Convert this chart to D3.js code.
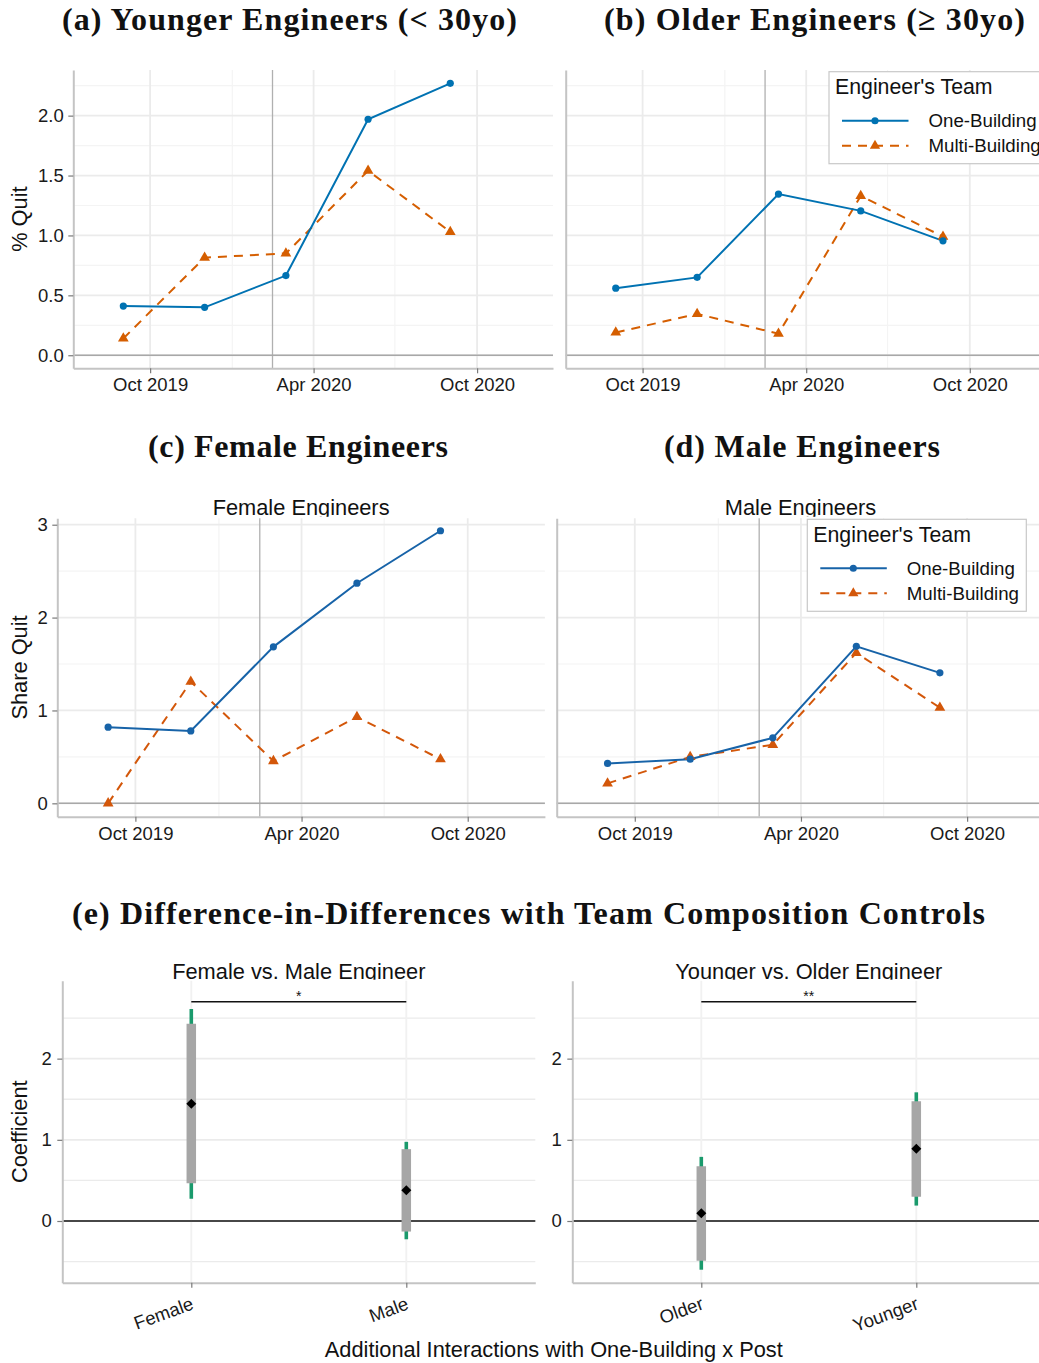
<!DOCTYPE html>
<html>
<head>
<meta charset="utf-8">
<script src="https://cdn.jsdelivr.net/npm/d3@7"></script>
<style>
  body { margin: 0; background: #fff; }
  svg { display: block; }
  text { font-family: "Liberation Sans", Arial, sans-serif; }
</style>
</head>
<body>
<svg id="chart" width="1039" height="1363"></svg>
<script>
// ---- data ----
var quarterDates = ["2019-09-01", "2019-12-01", "2020-03-01", "2020-06-01", "2020-09-01"];
var seriesNames = ["One-Building", "Multi-Building"];

var youngOne   = [0.41, 0.40, 0.665, 1.97, 2.27];
var youngMulti = [0.14, 0.815, 0.85, 1.54, 1.03];
var oldOne     = [0.56, 0.65, 1.345, 1.205, 0.955];
var oldMulti   = [0.19, 0.345, 0.18, 1.33, 0.99];

var femaleOne   = [0.82, 0.78, 1.685, 2.37, 2.935];
var femaleMulti = [0.0, 1.31, 0.455, 0.93, 0.475];
var maleOne     = [0.43, 0.475, 0.705, 1.69, 1.405];
var maleMulti   = [0.215, 0.50, 0.63, 1.62, 1.03];

var xTickDates  = ["2019-10-01", "2020-04-01", "2020-10-01"];
var xMinorDates = ["2020-01-01", "2020-07-01"];
var xDomainDates = ["2019-07-07", "2020-12-25"];
var policyDate = "2020-02-15";

var quitTicks = [0, 0.5, 1, 1.5, 2];
var quitMinor = [0.25, 0.75, 1.25, 1.75, 2.25];
var shareTicks = [0, 1, 2, 3];
var shareMinor = [0.5, 1.5, 2.5];

// coefficient plots (estimate, inner interval, outer interval)
var genderCats  = ["Female", "Male"];
var genderEst   = [1.445, 0.38];
var genderLoIn  = [0.465, -0.13];
var genderHiIn  = [2.43, 0.885];
var genderLoOut = [0.275, -0.225];
var genderHiOut = [2.61, 0.975];
var genderStars = "*";

var ageCats  = ["Older", "Younger"];
var ageEst   = [0.095, 0.89];
var ageLoIn  = [-0.49, 0.30];
var ageHiIn  = [0.675, 1.475];
var ageLoOut = [-0.60, 0.19];
var ageHiOut = [0.79, 1.585];
var ageStars = "**";

var coefTicks = [0, 1, 2];
var coefMinor = [-0.5, 0.5, 1.5, 2.5];
var sigBarLevel = 2.70;

var parse = d3.utcParse("%Y-%m-%d");
var svg = d3.select("#chart");

var gridMajor = "#ebebeb", gridMinor = "#f4f4f4", axisCol = "#c4c4c4", tickCol = "#7a7a7a";

// big serif figure captions
function caption(txt, cx, y, len) {
  svg.append("text")
    .attr("x", cx).attr("y", y)
    .attr("text-anchor", "middle")
    .style("font-family", "'Liberation Serif', 'Times New Roman', serif")
    .attr("font-weight", "bold")
    .attr("font-size", 32)
    .attr("textLength", len)
    .attr("lengthAdjust", "spacing")
    .attr("fill", "#111")
    .text(txt);
}

caption("(a) Younger Engineers (< 30yo)", 289.5, 30, 455);
caption("(b) Older Engineers (\u2265 30yo)", 814.5, 30, 421);
caption("(c) Female Engineers", 298, 456.5, 300);
caption("(d) Male Engineers", 802, 456.5, 276);
caption("(e) Difference-in-Differences with Team Composition Controls", 528.5, 923.5, 913);

function drawLegend(g, lx, ly, cBlue, cOrange) {
  var lg = g.append("g").attr("transform", "translate(" + lx + "," + ly + ")");
  lg.append("rect").attr("width", 219).attr("height", 92)
    .attr("fill", "#fff").attr("stroke", "#c8c8c8").attr("stroke-width", 1.2);
  lg.append("text").attr("x", 6).attr("y", 22.6).attr("font-size", 21.3).attr("fill", "#111")
    .text("Engineer's Team");
  var keys = lg.selectAll(".key").data(seriesNames).enter().append("g")
    .attr("transform", function(d, i) { return "translate(0," + (49 + i * 25) + ")"; });
  keys.append("line").attr("x1", 13).attr("x2", 79.5).attr("y1", 0).attr("y2", 0)
    .attr("stroke", function(d, i) { return i ? cOrange : cBlue; })
    .attr("stroke-width", 2)
    .attr("stroke-dasharray", function(d, i) { return i ? "9,7" : null; });
  keys.append("path")
    .attr("transform", "translate(46,0)")
    .attr("d", function(d, i) { return i ? d3.symbol(d3.symbolTriangle, 46)() : d3.symbol(d3.symbolCircle, 40)(); })
    .attr("fill", function(d, i) { return i ? cOrange : cBlue; });
  keys.append("text").attr("x", 99.5).attr("y", 0).attr("dy", "0.36em")
    .attr("font-size", 18.7).attr("fill", "#111").text(function(d) { return d; });
}

function timePanel(p) {
  var x = d3.scaleUtc().domain(xDomainDates.map(parse)).range([p.left, p.right]);
  var y = d3.scaleLinear().domain(p.yDomain).range([p.bottom, p.top]);
  var g = svg.append("g");

  if (p.subtitle) {
    g.append("text").attr("x", (p.left + p.right) / 2).attr("y", p.top - 3)
      .attr("text-anchor", "middle").attr("font-size", 21.8).attr("fill", "#111")
      .text(p.subtitle);
  }
  g.append("rect").attr("x", p.left).attr("y", p.top - 1.5)
    .attr("width", p.right - p.left).attr("height", p.bottom - p.top + 1.5)
    .attr("fill", "#fff");

  // grid
  g.selectAll(".vmin").data(xMinorDates.map(parse)).enter().append("line")
    .attr("x1", d => x(d)).attr("x2", d => x(d)).attr("y1", p.top).attr("y2", p.bottom)
    .attr("stroke", gridMinor).attr("stroke-width", 1.2);
  g.selectAll(".hmin").data(p.minor).enter().append("line")
    .attr("x1", p.left).attr("x2", p.right).attr("y1", d => y(d)).attr("y2", d => y(d))
    .attr("stroke", gridMinor).attr("stroke-width", 1.2);
  g.selectAll(".vmaj").data(xTickDates.map(parse)).enter().append("line")
    .attr("x1", d => x(d)).attr("x2", d => x(d)).attr("y1", p.top).attr("y2", p.bottom)
    .attr("stroke", gridMajor).attr("stroke-width", 1.8);
  g.selectAll(".hmaj").data(p.ticks).enter().append("line")
    .attr("x1", p.left).attr("x2", p.right).attr("y1", d => y(d)).attr("y2", d => y(d))
    .attr("stroke", gridMajor).attr("stroke-width", 1.8);

  // policy date and zero line
  g.append("line").attr("x1", x(parse(policyDate))).attr("x2", x(parse(policyDate)))
    .attr("y1", p.top).attr("y2", p.bottom).attr("stroke", "#b0b0b0").attr("stroke-width", 1.3);
  g.append("line").attr("x1", p.left).attr("x2", p.right).attr("y1", y(0)).attr("y2", y(0))
    .attr("stroke", "#a8a8a8").attr("stroke-width", 1.5);

  // axes
  var xAxis = d3.axisBottom(x).tickValues(xTickDates.map(parse))
    .tickFormat(d3.utcFormat("%b %Y")).tickSize(5).tickSizeOuter(0).tickPadding(5);
  var xg = g.append("g").attr("transform", "translate(0," + p.bottom + ")").call(xAxis);
  xg.select(".domain").attr("stroke", axisCol).attr("stroke-width", 2);
  xg.selectAll(".tick line").attr("stroke", tickCol).attr("stroke-width", 1.2);
  xg.selectAll(".tick text").attr("font-size", 18.5).attr("fill", "#1a1a1a")
    .style("font-family", "'Liberation Sans', Arial, sans-serif");

  var yAxis = d3.axisLeft(y).tickValues(p.ticks).tickFormat(p.fmt)
    .tickSize(p.showY ? 5 : 0).tickSizeOuter(0).tickPadding(4.5);
  var yg = g.append("g").attr("transform", "translate(" + p.left + ",0)").call(yAxis);
  yg.select(".domain").attr("stroke", axisCol).attr("stroke-width", 2);
  yg.selectAll(".tick line").attr("stroke", tickCol).attr("stroke-width", 1.2);
  yg.selectAll(".tick text").attr("font-size", 18.5).attr("fill", "#1a1a1a")
    .style("font-family", "'Liberation Sans', Arial, sans-serif");
  if (!p.showY) yg.selectAll(".tick text").remove();

  if (p.yLabel) {
    g.append("text")
      .attr("transform", "translate(27," + ((p.top + p.bottom) / 2) + ") rotate(-90)")
      .attr("text-anchor", "middle").attr("font-size", 21.8).attr("fill", "#111")
      .text(p.yLabel);
  }

  // series
  var dates = quarterDates.map(parse);
  var line = d3.line().x((d, i) => x(dates[i])).y(d => y(d));
  g.append("path").datum(p.multi).attr("d", line).attr("fill", "none")
    .attr("stroke", p.orange).attr("stroke-width", 2).attr("stroke-dasharray", "9,7");
  g.append("path").datum(p.one).attr("d", line).attr("fill", "none")
    .attr("stroke", p.blue).attr("stroke-width", 2);
  g.selectAll(".tri").data(p.multi).enter().append("path")
    .attr("transform", (d, i) => "translate(" + x(dates[i]) + "," + y(d) + ")")
    .attr("d", d3.symbol(d3.symbolTriangle, 50)).attr("fill", p.orange);
  g.selectAll(".dot").data(p.one).enter().append("circle")
    .attr("cx", (d, i) => x(dates[i])).attr("cy", d => y(d)).attr("r", 3.6)
    .attr("fill", p.blue);

  if (p.legend) drawLegend(g, p.legend[0], p.legend[1], p.blue, p.orange);
}

var fmt1 = d3.format(".1f"), fmt0 = d3.format("d");

timePanel({ left: 73.3, right: 553, top: 70, bottom: 368.3, yDomain: [-0.109, 2.381],
  ticks: quitTicks, minor: quitMinor, fmt: fmt1, showY: true, yLabel: "% Quit",
  one: youngOne, multi: youngMulti, blue: "#0072b2", orange: "#d55e00" });
timePanel({ left: 565.7, right: 1045.8, top: 70, bottom: 368.3, yDomain: [-0.109, 2.381],
  ticks: quitTicks, minor: quitMinor, fmt: fmt1, showY: false,
  one: oldOne, multi: oldMulti, blue: "#0072b2", orange: "#d55e00", legend: [829, 71.7] });
timePanel({ left: 57.3, right: 544.9, top: 518.3, bottom: 816.7, yDomain: [-0.144, 3.069],
  ticks: shareTicks, minor: shareMinor, fmt: fmt0, showY: true, yLabel: "Share Quit",
  subtitle: "Female Engineers",
  one: femaleOne, multi: femaleMulti, blue: "#1763a8", orange: "#d3570a" });
timePanel({ left: 556.7, right: 1044.3, top: 518.3, bottom: 816.7, yDomain: [-0.144, 3.069],
  ticks: shareTicks, minor: shareMinor, fmt: fmt0, showY: false,
  subtitle: "Male Engineers",
  one: maleOne, multi: maleMulti, blue: "#1763a8", orange: "#d3570a", legend: [807.3, 519.3] });

function coefPanel(p) {
  var x = d3.scalePoint().domain(p.cats).range([p.left, p.right]).padding(0.6);
  var y = d3.scaleLinear().domain([-0.76, 2.96]).range([p.bottom, p.top]);
  var g = svg.append("g");

  g.append("text").attr("x", (p.left + p.right) / 2).attr("y", p.top - 2)
    .attr("text-anchor", "middle").attr("font-size", 21.8).attr("fill", "#111").text(p.subtitle);
  g.append("rect").attr("x", p.left).attr("y", p.top - 1)
    .attr("width", p.right - p.left).attr("height", p.bottom - p.top + 1).attr("fill", "#fff");

  g.selectAll(".hmin").data(coefMinor).enter().append("line")
    .attr("x1", p.left).attr("x2", p.right).attr("y1", d => y(d)).attr("y2", d => y(d))
    .attr("stroke", gridMajor).attr("stroke-width", 1.3);
  g.selectAll(".hmaj").data(coefTicks).enter().append("line")
    .attr("x1", p.left).attr("x2", p.right).attr("y1", d => y(d)).attr("y2", d => y(d))
    .attr("stroke", gridMajor).attr("stroke-width", 1.8);
  g.selectAll(".vmaj").data(p.cats).enter().append("line")
    .attr("x1", d => x(d)).attr("x2", d => x(d)).attr("y1", p.top).attr("y2", p.bottom)
    .attr("stroke", "#f1f1f1").attr("stroke-width", 1.8);

  g.append("line").attr("x1", p.left).attr("x2", p.right).attr("y1", y(0)).attr("y2", y(0))
    .attr("stroke", "#111").attr("stroke-width", 1.5);

  var xAxis = d3.axisBottom(x).tickSize(5).tickSizeOuter(0);
  var xg = g.append("g").attr("transform", "translate(0," + p.bottom + ")").call(xAxis);
  xg.select(".domain").attr("stroke", axisCol).attr("stroke-width", 2);
  xg.selectAll(".tick line").attr("stroke", tickCol).attr("stroke-width", 1.2);
  xg.selectAll(".tick text")
    .attr("x", 0).attr("y", 0).attr("dy", 0)
    .attr("transform", "translate(3,26) rotate(-20)")
    .attr("text-anchor", "end")
    .attr("font-size", 18.5).attr("fill", "#1a1a1a")
    .style("font-family", "'Liberation Sans', Arial, sans-serif");

  var yAxis = d3.axisLeft(y).tickValues(coefTicks).tickFormat(d3.format("d"))
    .tickSize(5).tickSizeOuter(0).tickPadding(5.5);
  var yg = g.append("g").attr("transform", "translate(" + p.left + ",0)").call(yAxis);
  yg.select(".domain").attr("stroke", axisCol).attr("stroke-width", 2);
  yg.selectAll(".tick line").attr("stroke", tickCol).attr("stroke-width", 1.2);
  yg.selectAll(".tick text").attr("font-size", 18.5).attr("fill", "#1a1a1a")
    .style("font-family", "'Liberation Sans', Arial, sans-serif");

  // significance bracket
  g.append("line").attr("x1", x(p.cats[0])).attr("x2", x(p.cats[1]))
    .attr("y1", y(sigBarLevel)).attr("y2", y(sigBarLevel))
    .attr("stroke", "#111").attr("stroke-width", 1.5);
  g.append("text").attr("x", (x(p.cats[0]) + x(p.cats[1])) / 2).attr("y", y(sigBarLevel) - 1)
    .attr("text-anchor", "middle").attr("font-size", 14).attr("fill", "#111").text(p.stars);

  // intervals and estimates
  g.selectAll(".outer").data(p.cats).enter().append("line")
    .attr("x1", d => x(d)).attr("x2", d => x(d))
    .attr("y1", (d, i) => y(p.loOut[i])).attr("y2", (d, i) => y(p.hiOut[i]))
    .attr("stroke", "#1a9a6c").attr("stroke-width", 3.6);
  g.selectAll(".inner").data(p.cats).enter().append("line")
    .attr("x1", d => x(d)).attr("x2", d => x(d))
    .attr("y1", (d, i) => y(p.loIn[i])).attr("y2", (d, i) => y(p.hiIn[i]))
    .attr("stroke", "#a6a6a6").attr("stroke-width", 9.5);
  g.selectAll(".est").data(p.est).enter().append("path")
    .attr("transform", (d, i) => "translate(" + x(p.cats[i]) + "," + y(d) + ") rotate(45)")
    .attr("d", d3.symbol(d3.symbolSquare, 50)).attr("fill", "#000");
}

coefPanel({ left: 62.3, right: 535.3, top: 980.7, bottom: 1282.7, cats: genderCats,
  est: genderEst, loIn: genderLoIn, hiIn: genderHiIn, loOut: genderLoOut, hiOut: genderHiOut,
  stars: genderStars, subtitle: "Female vs. Male Engineer" });
coefPanel({ left: 572.3, right: 1045.3, top: 980.7, bottom: 1282.7, cats: ageCats,
  est: ageEst, loIn: ageLoIn, hiIn: ageHiIn, loOut: ageLoOut, hiOut: ageHiOut,
  stars: ageStars, subtitle: "Younger vs. Older Engineer" });

svg.append("text")
  .attr("transform", "translate(27,1131.7) rotate(-90)")
  .attr("text-anchor", "middle").attr("font-size", 21.8).attr("fill", "#111")
  .text("Coefficient");
svg.append("text").attr("x", 553.8).attr("y", 1357)
  .attr("text-anchor", "middle").attr("font-size", 21.8).attr("fill", "#111")
  .text("Additional Interactions with One-Building x Post");
</script>
</body>
</html>
